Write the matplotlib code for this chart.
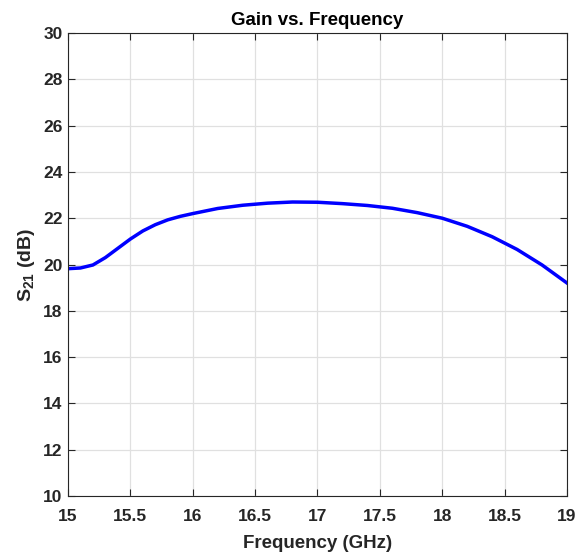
import matplotlib
matplotlib.use("Agg")
import matplotlib.pyplot as plt

# gain curve
freq_ghz = [15.0, 15.1, 15.2, 15.3, 15.4, 15.5, 15.6, 15.7, 15.8, 15.9,
            16.0, 16.2, 16.4, 16.6, 16.8, 17.0, 17.2, 17.4, 17.6, 17.8,
            18.0, 18.2, 18.4, 18.6, 18.8, 19.0]
s21_db = [19.82, 19.85, 19.98, 20.3, 20.7, 21.1, 21.45, 21.72, 21.93, 22.08,
          22.2, 22.42, 22.56, 22.65, 22.7, 22.69, 22.63, 22.55, 22.43, 22.24,
          22.0, 21.65, 21.2, 20.65, 19.98, 19.2]

xticks = [15, 15.5, 16, 16.5, 17, 17.5, 18, 18.5, 19]
xtick_labels = ["15", "15.5", "16", "16.5", "17", "17.5", "18", "18.5", "19"]
yticks = list(range(10, 31, 2))

plt.rcParams['font.family'] = ['Liberation Sans', 'DejaVu Sans']
plt.rcParams['font.weight'] = 'bold'
plt.rcParams['mathtext.fontset'] = 'custom'
plt.rcParams['mathtext.rm'] = 'Liberation Sans:bold'
plt.rcParams['mathtext.bf'] = 'Liberation Sans:bold'
plt.rcParams['mathtext.default'] = 'bf'

dark = (0.15, 0.15, 0.15)

fig = plt.figure(figsize=(5.77, 5.55), dpi=100)
ax = fig.add_axes([0.1178, 0.1063, 0.8649, 0.8342])

ax.plot(freq_ghz, s21_db, color=(0, 0, 1), linewidth=2.5)

ax.set_xlim(15, 19)
ax.set_ylim(10, 30)
ax.set_xticks(xticks)
ax.set_xticklabels(xtick_labels)
ax.set_yticks(yticks)

ax.grid(True, color=(0.88, 0.88, 0.88), linewidth=0.9)
ax.set_axisbelow(True)
ax.tick_params(direction='in', top=True, right=True, length=5, width=0.8,
               colors=dark, labelsize=12.5)
ax.tick_params(axis='x', pad=9)
ax.tick_params(axis='y', pad=4)
for lbl in ax.get_xticklabels() + ax.get_yticklabels():
    lbl.set_fontweight('bold')
for sp in ax.spines.values():
    sp.set_color(dark)
    sp.set_linewidth(0.8)

ax.set_title("Gain vs. Frequency", fontsize=13.5, fontweight='bold', pad=6)
ax.set_xlabel("Frequency (GHz)", fontsize=13.5, fontweight='bold', color=dark, labelpad=8)
ax.set_ylabel(r"$S_{21}$ (dB)", fontsize=14, fontweight='bold', color=dark, labelpad=4)

fig.savefig("out.png", dpi=100)
